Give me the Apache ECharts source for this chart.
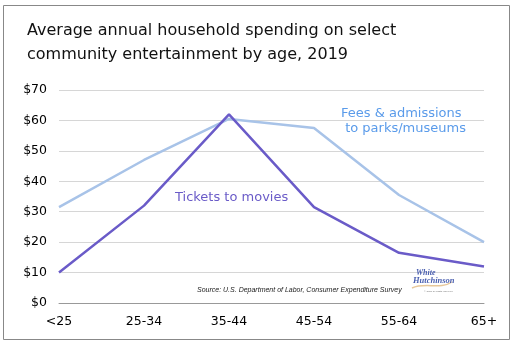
<!DOCTYPE html>
<html><head><meta charset="utf-8">
<script src="https://cdn.jsdelivr.net/npm/echarts@6/dist/echarts.min.js"></script>
<style>html,body{margin:0;padding:0;background:#fff}#c{width:516px;height:348px}</style>
</head><body><div id="c"></div>
<script>
const categories = ['<25','25-34','35-44','45-54','55-64','65+'];
const movies = [10, 32, 62, 31.5, 16.5, 12];
const fees = [31.5, 47, 60.5, 57.5, 35.5, 20];
const yTicks = [0,10,20,30,40,50,60,70];
const FONT = '"DejaVu Sans", Verdana, sans-serif';
const chart = echarts.init(document.getElementById('c'));
chart.setOption({
  animation:false,
  backgroundColor:'#fff',
  grid:{left:59,right:32,top:90,bottom:45},
  xAxis:{type:'category',data:categories,boundaryGap:false,
    axisLine:{lineStyle:{color:'#999',width:1}},axisTick:{show:false},
    axisLabel:{color:'#000',fontSize:12.5,fontFamily:FONT,margin:12}},
  yAxis:{type:'value',min:0,max:70,interval:10,
    axisLine:{show:false},axisTick:{show:false},
    splitLine:{lineStyle:{color:'#d6d6d6',width:1}},
    axisLabel:{color:'#000',fontSize:12.5,fontFamily:FONT,margin:12,formatter:v=>'$'+v}},
  series:[
    {name:'Fees & admissions to parks/museums',type:'line',data:fees,symbol:'none',
     lineStyle:{color:'#a8c3e8',width:2.5},z:2},
    {name:'Tickets to movies',type:'line',data:movies,symbol:'none',
     lineStyle:{color:'#6a5bc8',width:2.5},z:3}
  ],
  graphic:[
    {type:'rect',shape:{x:3.5,y:5.5,width:506,height:334},style:{fill:'none',stroke:'#888',lineWidth:1},silent:true},
    {type:'text',left:27,top:19,style:{text:'Average annual household spending on select\ncommunity entertainment by age, 2019',
      fill:'#111',font:'16px '+FONT,lineHeight:24}},
    {type:'text',left:341,top:106,style:{text:'Fees & admissions\n to parks/museums',fill:'#5a9bea',font:'13px '+FONT,lineHeight:15,align:'center'}},
    {type:'text',left:175,top:191,style:{text:'Tickets to movies',fill:'#6a5bc8',font:'13px '+FONT}},
    {type:'text',left:197,top:287,style:{text:'Source: U.S. Department of Labor, Consumer Expenditure Survey',fill:'#222',font:'italic 7px "Liberation Sans", Arial, sans-serif'}},
    {type:'text',x:416,y:269,z:10,style:{text:'White',fill:'#4a5fb0',font:'italic bold 8px "Liberation Serif", serif'}},
    {type:'text',x:413,y:276,z:10,style:{text:'Hutchinson',fill:'#4a5fb0',font:'italic bold 8.5px "Liberation Serif", serif'}},
    {type:'bezierCurve',z:9,shape:{x1:412,y1:288,x2:452,y2:282,cpx1:425,cpy1:282,cpx2:440,cpy2:290},style:{stroke:'#e8c89a',lineWidth:1.5,fill:'none'}},
    {type:'text',x:424,y:290,z:10,style:{text:'© 2020 all rights reserved',fill:'#777',font:'2.5px sans-serif'}}
  ]
});
</script></body></html>
